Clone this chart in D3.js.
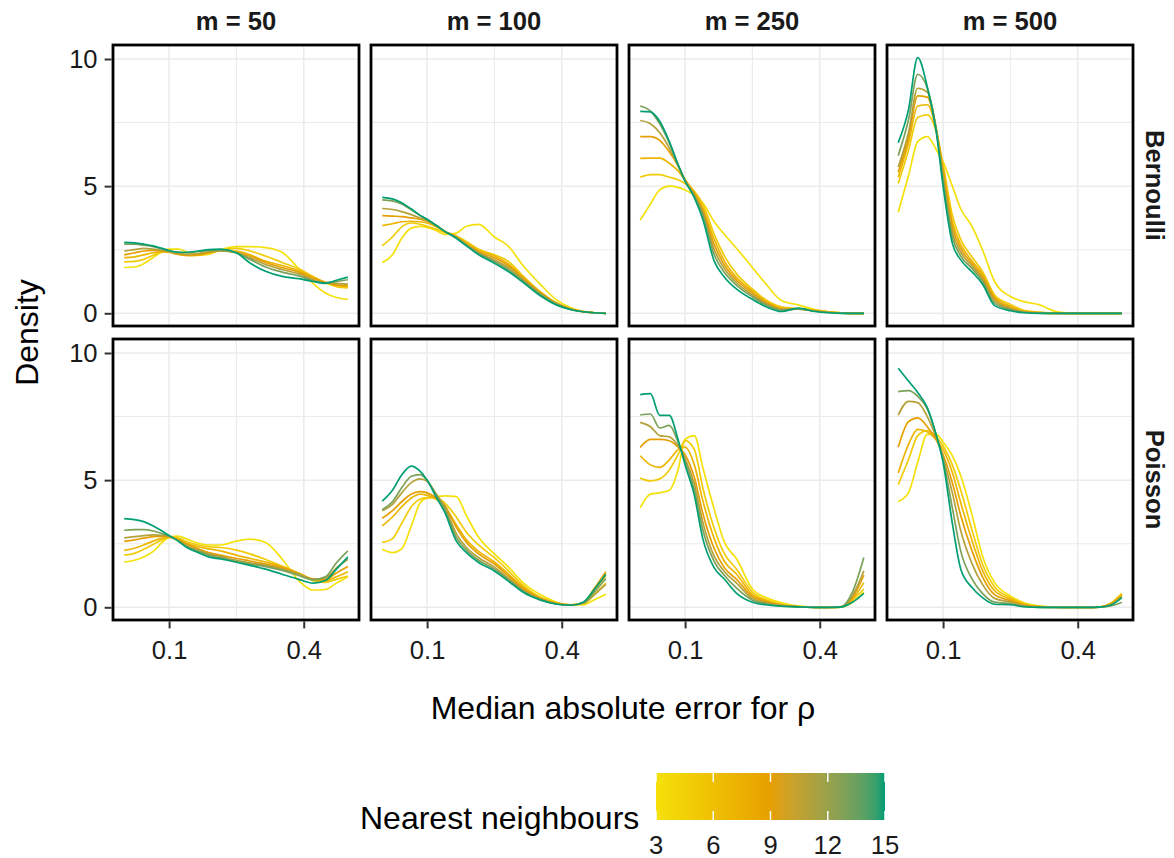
<!DOCTYPE html>
<html>
<head>
<meta charset="utf-8">
<script src="https://cdn.jsdelivr.net/npm/d3@7/dist/d3.min.js"></script>
<style>
body { margin: 0; background: #fff; }
svg { font-family: "Liberation Sans", Arial, Helvetica, sans-serif; }
</style>
</head>
<body>
<svg id="chart" width="1174" height="858"></svg>
<script>
// facets and legend
const sizes = ["m = 50", "m = 100", "m = 250", "m = 500"];
const models = ["Bernoulli", "Poisson"];
const neighbours = [3, 5, 7, 9, 11, 13, 15];
const legendTicks = [3, 6, 9, 12, 15];
const xTicks = [0.1, 0.4];
const yTicks = [0, 5, 10];

// median absolute error values where the densities were read
const errGrid = [0.063, 0.07, 0.077, 0.085, 0.093, 0.1, 0.11, 0.12, 0.135, 0.15,
                 0.17, 0.2, 0.23, 0.27, 0.32, 0.38, 0.44, 0.5, 0.56, 0.63];

// densities, one row per number of neighbours (3, 5, ..., 15)
const bern50 = [
  [1.80, 1.82, 1.95, 2.20, 2.42, 2.52, 2.52, 2.42, 2.30, 2.32, 2.50, 2.62, 2.62, 2.58, 2.40, 1.75, 1.18, 0.80, 0.62, 0.55],
  [2.02, 2.04, 2.12, 2.28, 2.40, 2.42, 2.38, 2.30, 2.28, 2.35, 2.48, 2.55, 2.45, 2.25, 2.00, 1.75, 1.45, 1.20, 1.05, 1.00],
  [2.19, 2.22, 2.30, 2.38, 2.42, 2.40, 2.32, 2.28, 2.30, 2.38, 2.45, 2.45, 2.30, 2.05, 1.88, 1.68, 1.42, 1.22, 1.10, 1.05],
  [2.30, 2.38, 2.45, 2.47, 2.45, 2.40, 2.32, 2.28, 2.30, 2.38, 2.45, 2.40, 2.25, 2.00, 1.80, 1.62, 1.38, 1.22, 1.12, 1.10],
  [2.45, 2.50, 2.55, 2.52, 2.47, 2.42, 2.35, 2.32, 2.35, 2.42, 2.45, 2.38, 2.18, 1.92, 1.72, 1.55, 1.32, 1.20, 1.18, 1.15],
  [2.72, 2.72, 2.68, 2.62, 2.53, 2.46, 2.40, 2.38, 2.43, 2.47, 2.48, 2.38, 2.12, 1.82, 1.62, 1.47, 1.28, 1.20, 1.25, 1.32],
  [2.79, 2.77, 2.72, 2.65, 2.55, 2.47, 2.40, 2.40, 2.45, 2.50, 2.52, 2.38, 1.98, 1.65, 1.45, 1.36, 1.25, 1.18, 1.30, 1.42]
];
const bern100 = [
  [2.00, 2.30, 2.95, 3.35, 3.42, 3.38, 3.25, 3.10, 3.15, 3.42, 3.50, 3.00, 2.65, 1.85, 1.15, 0.52, 0.22, 0.08, 0.02, 0.00],
  [2.66, 3.00, 3.40, 3.55, 3.50, 3.42, 3.30, 3.18, 3.05, 2.82, 2.52, 2.30, 2.05, 1.45, 0.86, 0.40, 0.17, 0.06, 0.02, 0.00],
  [3.45, 3.52, 3.60, 3.62, 3.60, 3.55, 3.40, 3.22, 3.02, 2.76, 2.48, 2.25, 1.95, 1.40, 0.84, 0.39, 0.17, 0.06, 0.02, 0.00],
  [3.84, 3.82, 3.80, 3.75, 3.70, 3.62, 3.44, 3.22, 3.00, 2.72, 2.42, 2.18, 1.88, 1.36, 0.82, 0.38, 0.16, 0.06, 0.02, 0.00],
  [4.12, 4.08, 4.00, 3.88, 3.75, 3.64, 3.45, 3.22, 2.98, 2.70, 2.38, 2.10, 1.80, 1.30, 0.78, 0.37, 0.16, 0.06, 0.02, 0.00],
  [4.46, 4.42, 4.30, 4.07, 3.85, 3.70, 3.45, 3.22, 2.97, 2.68, 2.35, 2.04, 1.72, 1.25, 0.75, 0.35, 0.15, 0.06, 0.02, 0.00],
  [4.56, 4.50, 4.35, 4.10, 3.85, 3.70, 3.45, 3.22, 2.95, 2.65, 2.30, 1.97, 1.65, 1.20, 0.70, 0.32, 0.14, 0.06, 0.02, 0.00]
];
const bern250 = [
  [3.66, 4.30, 4.85, 5.00, 4.95, 4.85, 4.65, 4.35, 3.60, 3.10, 2.55, 1.80, 1.15, 0.50, 0.33, 0.15, 0.06, 0.02, 0.00, 0.00],
  [5.35, 5.45, 5.45, 5.35, 5.25, 5.10, 4.80, 4.30, 3.10, 2.25, 1.55, 0.95, 0.52, 0.25, 0.18, 0.13, 0.05, 0.02, 0.00, 0.00],
  [6.09, 6.10, 6.10, 5.90, 5.60, 5.25, 4.75, 4.15, 2.90, 2.05, 1.40, 0.88, 0.47, 0.20, 0.17, 0.11, 0.05, 0.01, 0.00, 0.00],
  [6.95, 6.95, 6.80, 6.35, 5.80, 5.25, 4.70, 4.05, 2.70, 1.90, 1.30, 0.80, 0.42, 0.17, 0.16, 0.10, 0.04, 0.01, 0.00, 0.00],
  [7.58, 7.45, 7.10, 6.50, 5.80, 5.20, 4.65, 3.95, 2.50, 1.75, 1.20, 0.72, 0.38, 0.15, 0.16, 0.09, 0.03, 0.01, 0.00, 0.00],
  [8.15, 7.95, 7.45, 6.70, 5.85, 5.20, 4.60, 3.85, 2.30, 1.60, 1.10, 0.65, 0.33, 0.12, 0.17, 0.08, 0.03, 0.01, 0.00, 0.00],
  [7.94, 7.92, 7.55, 6.75, 5.85, 5.20, 4.55, 3.70, 2.05, 1.42, 0.95, 0.55, 0.26, 0.07, 0.20, 0.07, 0.02, 0.00, 0.00, 0.00]
];
const bern500 = [
  [3.97, 5.40, 6.75, 6.95, 6.45, 5.95, 5.00, 4.10, 3.40, 2.50, 1.25, 0.66, 0.46, 0.33, 0.07, 0.01, 0.00, 0.00, 0.00, 0.00],
  [5.10, 6.40, 7.70, 7.80, 7.15, 5.85, 3.85, 2.90, 2.20, 1.65, 0.72, 0.35, 0.12, 0.05, 0.01, 0.00, 0.00, 0.00, 0.00, 0.00],
  [5.35, 6.70, 8.15, 8.20, 7.25, 5.70, 3.60, 2.70, 2.05, 1.55, 0.65, 0.28, 0.08, 0.03, 0.00, 0.00, 0.00, 0.00, 0.00, 0.00],
  [5.55, 6.90, 8.55, 8.50, 7.30, 5.55, 3.40, 2.55, 1.95, 1.45, 0.58, 0.22, 0.06, 0.02, 0.00, 0.00, 0.00, 0.00, 0.00, 0.00],
  [5.75, 7.10, 8.85, 8.70, 7.30, 5.40, 3.20, 2.40, 1.85, 1.35, 0.50, 0.18, 0.05, 0.01, 0.00, 0.00, 0.00, 0.00, 0.00, 0.00],
  [6.20, 7.60, 9.40, 8.85, 7.25, 5.20, 3.00, 2.25, 1.75, 1.25, 0.40, 0.14, 0.04, 0.01, 0.00, 0.00, 0.00, 0.00, 0.00, 0.00],
  [6.71, 8.00, 10.05, 8.90, 7.20, 5.00, 2.75, 2.10, 1.62, 1.15, 0.30, 0.10, 0.02, 0.00, 0.00, 0.00, 0.00, 0.00, 0.00, 0.00]
];
const pois50 = [
  [1.78, 1.85, 1.98, 2.20, 2.55, 2.75, 2.80, 2.68, 2.52, 2.45, 2.45, 2.60, 2.68, 2.55, 1.90, 1.05, 0.68, 0.70, 0.95, 1.20],
  [2.05, 2.12, 2.28, 2.48, 2.65, 2.75, 2.72, 2.58, 2.45, 2.38, 2.35, 2.25, 2.10, 1.88, 1.62, 1.32, 1.05, 0.98, 1.10, 1.23],
  [2.24, 2.32, 2.45, 2.60, 2.72, 2.76, 2.68, 2.52, 2.38, 2.30, 2.22, 2.05, 1.92, 1.78, 1.60, 1.35, 1.10, 1.05, 1.20, 1.40],
  [2.59, 2.65, 2.72, 2.78, 2.80, 2.78, 2.65, 2.48, 2.30, 2.15, 2.05, 1.92, 1.82, 1.70, 1.55, 1.32, 1.12, 1.10, 1.35, 1.60],
  [2.73, 2.78, 2.82, 2.85, 2.83, 2.80, 2.62, 2.42, 2.25, 2.10, 2.00, 1.85, 1.75, 1.65, 1.50, 1.30, 1.10, 1.15, 1.55, 1.89],
  [3.03, 3.05, 3.05, 3.00, 2.90, 2.80, 2.60, 2.38, 2.20, 2.05, 1.95, 1.80, 1.70, 1.60, 1.45, 1.25, 1.08, 1.20, 1.75, 2.22],
  [3.49, 3.45, 3.37, 3.20, 3.00, 2.82, 2.60, 2.35, 2.15, 1.98, 1.90, 1.77, 1.65, 1.50, 1.30, 1.10, 0.95, 1.05, 1.50, 1.98]
];
const pois100 = [
  [2.28, 2.15, 2.30, 3.20, 4.10, 4.30, 4.35, 4.38, 4.35, 3.60, 2.75, 2.10, 1.60, 0.95, 0.50, 0.20, 0.09, 0.10, 0.30, 0.51],
  [2.55, 2.70, 3.30, 3.95, 4.25, 4.30, 4.30, 4.10, 3.55, 2.95, 2.45, 1.95, 1.45, 0.85, 0.40, 0.17, 0.10, 0.14, 0.50, 0.95],
  [3.20, 3.55, 3.95, 4.30, 4.45, 4.40, 4.25, 3.95, 3.25, 2.65, 2.20, 1.78, 1.32, 0.78, 0.37, 0.16, 0.10, 0.17, 0.70, 1.25],
  [3.50, 3.80, 4.15, 4.45, 4.55, 4.50, 4.30, 4.00, 3.15, 2.55, 2.10, 1.70, 1.25, 0.72, 0.34, 0.15, 0.10, 0.18, 0.75, 1.40],
  [3.80, 4.05, 4.50, 4.90, 5.05, 4.95, 4.45, 3.95, 2.90, 2.35, 1.95, 1.58, 1.15, 0.66, 0.32, 0.14, 0.09, 0.16, 0.50, 0.90],
  [3.84, 4.15, 4.70, 5.15, 5.22, 5.00, 4.40, 3.85, 2.75, 2.25, 1.85, 1.50, 1.10, 0.62, 0.30, 0.13, 0.09, 0.18, 0.60, 1.13],
  [4.17, 4.60, 5.20, 5.55, 5.35, 5.00, 4.32, 3.73, 2.61, 2.15, 1.76, 1.43, 1.04, 0.58, 0.29, 0.12, 0.08, 0.21, 0.71, 1.30]
];
const pois250 = [
  [3.92, 4.45, 4.50, 4.60, 5.40, 6.60, 6.75, 5.50, 3.85, 2.55, 1.90, 0.72, 0.38, 0.18, 0.05, 0.01, 0.00, 0.01, 0.20, 0.60],
  [5.08, 4.97, 5.05, 5.40, 6.00, 6.55, 6.20, 4.70, 3.10, 2.10, 1.50, 0.60, 0.30, 0.12, 0.04, 0.01, 0.00, 0.01, 0.28, 0.72],
  [5.96, 5.60, 5.50, 5.80, 6.20, 6.30, 5.60, 4.20, 2.70, 1.80, 1.30, 0.50, 0.26, 0.10, 0.03, 0.00, 0.00, 0.01, 0.32, 0.97],
  [6.29, 6.60, 6.60, 6.55, 6.30, 6.00, 5.10, 3.70, 2.30, 1.55, 1.10, 0.42, 0.22, 0.08, 0.02, 0.00, 0.00, 0.02, 0.38, 1.26],
  [7.27, 7.10, 6.75, 6.70, 6.35, 5.85, 4.85, 3.35, 2.00, 1.40, 0.95, 0.35, 0.18, 0.07, 0.02, 0.00, 0.00, 0.02, 0.45, 1.43],
  [7.56, 7.60, 7.05, 7.15, 6.50, 5.75, 4.60, 3.05, 1.80, 1.25, 0.75, 0.28, 0.14, 0.05, 0.02, 0.00, 0.00, 0.03, 0.60, 1.96],
  [8.36, 8.40, 7.55, 7.55, 6.60, 5.60, 4.40, 2.70, 1.55, 1.10, 0.55, 0.20, 0.10, 0.04, 0.02, 0.00, 0.00, 0.01, 0.20, 0.55]
];
const pois500 = [
  [4.16, 4.50, 5.70, 6.80, 6.80, 6.50, 5.96, 5.17, 3.60, 2.02, 0.97, 0.45, 0.18, 0.05, 0.01, 0.00, 0.00, 0.01, 0.12, 0.50],
  [4.82, 5.80, 6.75, 6.95, 6.70, 6.35, 5.60, 4.60, 3.00, 1.70, 0.80, 0.38, 0.15, 0.04, 0.01, 0.00, 0.00, 0.01, 0.15, 0.55],
  [5.28, 6.40, 7.00, 6.90, 6.60, 6.20, 5.30, 4.10, 2.60, 1.45, 0.65, 0.32, 0.12, 0.03, 0.01, 0.00, 0.00, 0.01, 0.15, 0.50],
  [6.29, 7.30, 7.45, 7.10, 6.60, 6.00, 4.90, 3.60, 2.20, 1.20, 0.50, 0.26, 0.09, 0.02, 0.00, 0.00, 0.00, 0.01, 0.12, 0.45],
  [7.56, 8.10, 8.05, 7.50, 6.70, 5.90, 4.50, 3.00, 1.70, 0.90, 0.35, 0.20, 0.06, 0.01, 0.00, 0.00, 0.00, 0.01, 0.10, 0.42],
  [8.48, 8.52, 8.30, 7.80, 6.80, 5.80, 3.90, 2.20, 1.10, 0.55, 0.20, 0.14, 0.03, 0.00, 0.00, 0.00, 0.00, 0.01, 0.05, 0.20],
  [9.40, 8.90, 8.45, 7.85, 6.80, 5.70, 3.30, 1.50, 0.77, 0.38, 0.12, 0.10, 0.02, 0.00, 0.00, 0.00, 0.00, 0.01, 0.08, 0.38]
];

const panels = [
  [bern50, bern100, bern250, bern500],
  [pois50, pois100, pois250, pois500]
];

// layout
const panelLeft = [113, 371, 629, 887];
const panelW = 246;
const panelTop = [45, 339];
const panelH = 281;
const textCol = "#1a1a1a";
const smallFont = 25.6;
const bigFont = 32;

const svg = d3.select("#chart");

const colour = d3.scaleLinear()
  .domain([3, 9, 15])
  .range(["#F5E10A", "#E69F00", "#009E73"])
  .interpolate(d3.interpolateLab);

// x: log scale, data range expanded 5% each side
const xDomain = [0.05613, 0.7066];
const yDomain = [-0.5, 10.55];

const defs = svg.append("defs");

panels.forEach((row, r) => {
  row.forEach((curves, c) => {
    const x = d3.scaleLog().domain(xDomain).range([panelLeft[c], panelLeft[c] + panelW]);
    const y = d3.scaleLinear().domain(yDomain).range([panelTop[r] + panelH, panelTop[r]]);
    const g = svg.append("g");

    const clipId = "clip" + r + c;
    defs.append("clipPath").attr("id", clipId).append("rect")
      .attr("x", panelLeft[c]).attr("y", panelTop[r])
      .attr("width", panelW).attr("height", panelH);

    // grid
    g.selectAll(".vminor").data([0.2]).enter().append("line")
      .attr("x1", d => x(d)).attr("x2", d => x(d))
      .attr("y1", panelTop[r]).attr("y2", panelTop[r] + panelH)
      .attr("stroke", "#EBEBEB").attr("stroke-width", 1.1);
    g.selectAll(".hminor").data([2.5, 7.5]).enter().append("line")
      .attr("y1", d => y(d)).attr("y2", d => y(d))
      .attr("x1", panelLeft[c]).attr("x2", panelLeft[c] + panelW)
      .attr("stroke", "#EBEBEB").attr("stroke-width", 1.1);
    g.selectAll(".vmajor").data(xTicks).enter().append("line")
      .attr("x1", d => x(d)).attr("x2", d => x(d))
      .attr("y1", panelTop[r]).attr("y2", panelTop[r] + panelH)
      .attr("stroke", "#EBEBEB").attr("stroke-width", 1.5);
    g.selectAll(".hmajor").data(yTicks).enter().append("line")
      .attr("y1", d => y(d)).attr("y2", d => y(d))
      .attr("x1", panelLeft[c]).attr("x2", panelLeft[c] + panelW)
      .attr("stroke", "#EBEBEB").attr("stroke-width", 1.5);

    // density curves
    const line = d3.line()
      .x((d, i) => x(errGrid[i]))
      .y(d => y(d))
      .curve(d3.curveMonotoneX);
    g.append("g").attr("clip-path", "url(#" + clipId + ")")
      .selectAll("path").data(curves).enter().append("path")
      .attr("d", line)
      .attr("fill", "none")
      .attr("stroke", (d, i) => colour(neighbours[i]))
      .attr("stroke-width", 1.7);

    // border
    g.append("rect")
      .attr("x", panelLeft[c]).attr("y", panelTop[r])
      .attr("width", panelW).attr("height", panelH)
      .attr("fill", "none").attr("stroke", "#000").attr("stroke-width", 2.8);

    // axes
    if (c === 0) {
      const ay = svg.append("g").attr("transform", "translate(" + (panelLeft[0] - 1.4) + ",0)")
        .call(d3.axisLeft(y).tickValues(yTicks).tickSize(7).tickPadding(7));
      ay.select(".domain").remove();
      ay.selectAll("line").attr("stroke", "#333").attr("stroke-width", 2);
      ay.selectAll("text").attr("fill", textCol).style("font-size", smallFont + "px");
    }
    if (r === 1) {
      const ax = svg.append("g").attr("transform", "translate(0," + (panelTop[1] + panelH + 1.4) + ")")
        .call(d3.axisBottom(x).tickValues(xTicks).tickFormat(d3.format(".1f")).tickSize(7).tickPadding(12));
      ax.select(".domain").remove();
      ax.selectAll("line").attr("stroke", "#333").attr("stroke-width", 2);
      ax.selectAll("text").attr("fill", textCol).style("font-size", smallFont + "px");
    }
  });
});

// strip labels
svg.selectAll(".strip-top").data(sizes).enter().append("text")
  .attr("x", (d, i) => panelLeft[i] + panelW / 2)
  .attr("y", 30)
  .attr("text-anchor", "middle")
  .attr("fill", textCol)
  .style("font-size", smallFont + "px").style("font-weight", "bold")
  .text(d => d);

svg.selectAll(".strip-right").data(models).enter().append("text")
  .attr("transform", (d, i) => "translate(1155," + (panelTop[i] + panelH / 2) + ") rotate(90)")
  .attr("text-anchor", "middle")
  .attr("dy", "0.35em")
  .attr("fill", textCol)
  .style("font-size", smallFont + "px").style("font-weight", "bold")
  .text(d => d);

// axis titles
svg.append("text")
  .attr("x", (panelLeft[0] + panelLeft[3] + panelW) / 2)
  .attr("y", 719)
  .attr("text-anchor", "middle")
  .attr("fill", "#000")
  .style("font-size", bigFont + "px")
  .text("Median absolute error for ρ");

svg.append("text")
  .attr("transform", "translate(38," + (panelTop[0] + panelTop[1] + panelH) / 2 + ") rotate(-90)")
  .attr("text-anchor", "middle")
  .attr("fill", "#000")
  .style("font-size", bigFont + "px")
  .text("Density");

// legend
const lx = d3.scaleLinear().domain([3, 15]).range([656, 885]);
const barTop = 773, barH = 47;
const grad = defs.append("linearGradient").attr("id", "nngrad")
  .attr("x1", "0%").attr("x2", "100%").attr("y1", "0%").attr("y2", "0%");
grad.selectAll("stop").data(d3.range(3, 15.01, 0.5)).enter().append("stop")
  .attr("offset", d => ((d - 3) / 12 * 100) + "%")
  .attr("stop-color", d => colour(d));

svg.append("rect")
  .attr("x", lx(3)).attr("y", barTop)
  .attr("width", lx(15) - lx(3)).attr("height", barH)
  .attr("fill", "url(#nngrad)");

legendTicks.forEach(v => {
  [barTop, barTop + barH - 9].forEach(yy => {
    svg.append("line")
      .attr("x1", lx(v)).attr("x2", lx(v))
      .attr("y1", yy).attr("y2", yy + 9)
      .attr("stroke", "#fff").attr("stroke-width", 1.5);
  });
});

svg.selectAll(".legend-label").data(legendTicks).enter().append("text")
  .attr("x", d => lx(d))
  .attr("y", 854)
  .attr("text-anchor", "middle")
  .attr("fill", textCol)
  .style("font-size", smallFont + "px")
  .text(d => d);

svg.append("text")
  .attr("x", 360).attr("y", 829)
  .attr("fill", "#000")
  .style("font-size", bigFont + "px")
  .text("Nearest neighbours");
</script>
</body>
</html>
